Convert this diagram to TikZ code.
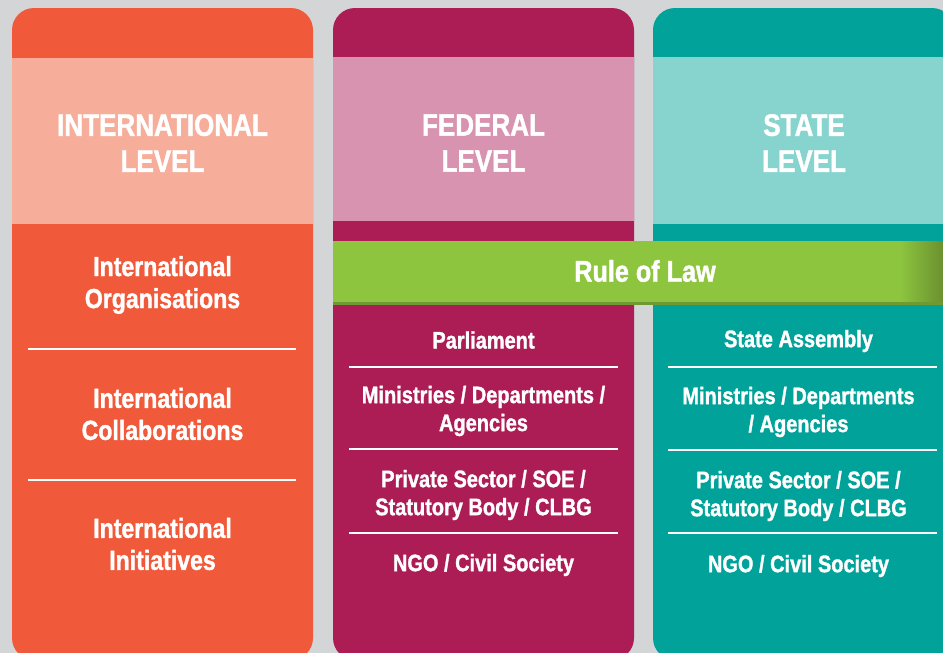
\documentclass[tikz,border=0pt]{standalone}
\usepackage{fontspec}
\setmainfont{Liberation Sans}[FakeStretch=0.84, BoldFeatures={FakeBold=1.3}]
\definecolor{bg}{HTML}{D4D5D7}
\definecolor{orangeC}{HTML}{F05A3A}
\definecolor{orangeL}{HTML}{F6AE9B}
\definecolor{magC}{HTML}{AC1C55}
\definecolor{magL}{HTML}{D893B0}
\definecolor{tealC}{HTML}{00A29A}
\definecolor{tealL}{HTML}{87D4CF}
\definecolor{greenC}{HTML}{8DC53F}
\definecolor{greenD}{HTML}{6A8F2E}
\definecolor{greenS}{HTML}{6F9A33}
\tikzset{
  title/.style={text=white, align=center, font=\bfseries\fontsize{31}{36}\selectfont},
  bigitem/.style={text=white, align=center, font=\bfseries\fontsize{27.5}{32}\selectfont},
  item/.style={text=white, align=center, font=\bfseries\fontsize{23.8}{28}\selectfont},
  rule/.style={text=white, font=\bfseries\fontsize{30}{34}\selectfont},
  divider/.style={draw=white, line width=2.2pt},
}
\begin{document}
\begin{tikzpicture}[x=1pt,y=-1pt]
\useasboundingbox (0,0) rectangle (943,653);
\clip (0,0) rectangle (943,653);
\fill[bg] (0,0) rectangle (943,653);
% columns
\fill[orangeC, rounded corners=22] (12,8) rectangle (313,660);
\fill[orangeL] (12,58) rectangle (313,224);
\fill[magC, rounded corners=22] (333,8) rectangle (634,660);
\fill[magL] (333,57) rectangle (634,221);
\fill[tealC, rounded corners=22] (653,8) rectangle (954,660);
\fill[tealL] (653,57) rectangle (954,224);
% rule of law band
\fill[greenC] (333,241) rectangle (902,302);
\shade[left color=greenC, right color=greenD] (900,241) rectangle (944,302);
\fill[greenS] (333,302) rectangle (944,305);
\node[rule] (rol) at (645,271) {Rule of Law};
% column 1
\node[title] (t1) at (162.5,143) {INTERNATIONAL\\LEVEL};
\node[bigitem] (a1) at (162.5,285) {International\\Organisations};
\node[bigitem] (a2) at (162.5,414) {International\\Collaborations};
\node[bigitem] (a3) at (162.5,544) {International\\Initiatives};
\draw[divider] (28,349) -- (296,349);
\draw[divider] (28,480) -- (296,480);
% column 2
\node[title] (t2) at (483.5,143) {FEDERAL\\LEVEL};
\node[item] (b1) at (483.5,340) {Parliament};
\node[item] (b2) at (483.5,411) {Ministries / Departments /\\Agencies};
\node[item] (b3) at (483.5,495) {Private Sector / SOE /\\Statutory Body / CLBG};
\node[item] (b4) at (483.5,565) {NGO / Civil Society};
\draw[divider] (349,367) -- (618,367);
\draw[divider] (349,449) -- (618,449);
\draw[divider] (349,533) -- (618,533);
% column 3
\node[title] (t3) at (804,143) {STATE\\LEVEL};
\node[item] (c1) at (798.5,341) {State Assembly};
\node[item] (c2) at (798.5,412) {Ministries / Departments\\/ Agencies};
\node[item] (c3) at (798.5,496) {Private Sector / SOE /\\Statutory Body / CLBG};
\node[item] (c4) at (798.5,566) {NGO / Civil Society};
\draw[divider] (668,367) -- (937,367);
\draw[divider] (668,450) -- (937,450);
\draw[divider] (668,533) -- (937,533);
\end{tikzpicture}
\end{document}
